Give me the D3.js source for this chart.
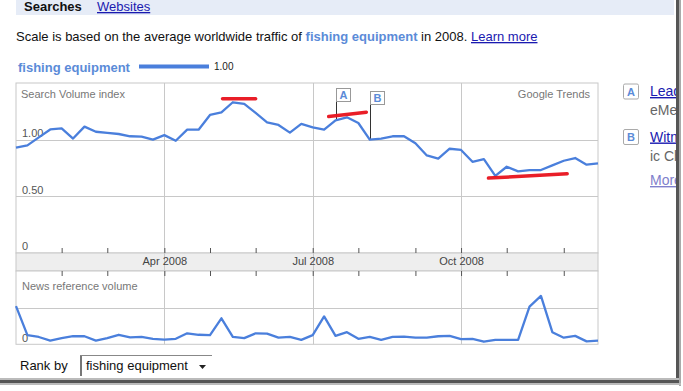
<!DOCTYPE html>
<html><head><meta charset="utf-8">
<script src="https://cdn.jsdelivr.net/npm/d3@7"></script>
<style>
html,body{margin:0;padding:0;background:#fff;}
svg{display:block;font-family:"Liberation Sans",Arial,sans-serif;}
</style></head>
<body><svg id="c" width="683" height="391"></svg>
<script>
// ---------- data ----------
const weeks = ["2008-01-06","2008-01-13","2008-01-20","2008-01-27","2008-02-03","2008-02-10","2008-02-17","2008-02-24",
"2008-03-02","2008-03-09","2008-03-16","2008-03-23","2008-03-30","2008-04-06","2008-04-13","2008-04-20","2008-04-27",
"2008-05-04","2008-05-11","2008-05-18","2008-05-25","2008-06-01","2008-06-08","2008-06-15","2008-06-22","2008-06-29",
"2008-07-06","2008-07-13","2008-07-20","2008-07-27","2008-08-03","2008-08-10","2008-08-17","2008-08-24","2008-08-31",
"2008-09-07","2008-09-14","2008-09-21","2008-09-28","2008-10-05","2008-10-12","2008-10-19","2008-10-26","2008-11-02",
"2008-11-09","2008-11-16","2008-11-23","2008-11-30","2008-12-07","2008-12-14","2008-12-21","2008-12-28"];
const searchVolume = [0.93,0.95,1.02,1.09,1.10,1.01,1.115,1.07,1.06,1.05,1.03,1.027,1.00,1.04,0.99,1.088,1.088,
1.218,1.24,1.33,1.316,1.236,1.153,1.13,1.062,1.139,1.109,1.088,1.171,1.197,1.147,1.00,1.009,1.03,1.03,0.968,0.861,
0.832,0.92,0.909,0.805,0.829,0.681,0.761,0.72,0.732,0.732,0.773,0.814,0.838,0.779,0.79];
const newsVolume = [1.04,0.25,0.20,0.10,0.17,0.22,0.22,0.10,0.17,0.26,0.19,0.20,0.15,0.13,0.15,0.30,0.26,0.25,0.71,
0.20,0.17,0.30,0.29,0.18,0.20,0.12,0.25,0.76,0.23,0.33,0.15,0.20,0.12,0.20,0.21,0.18,0.18,0.22,0.23,0.14,0.15,0.07,
0.12,0.12,0.12,1.03,1.32,0.33,0.18,0.23,0.08,0.10];
const majorTicks = ["2008-04-06","2008-07-06","2008-10-05"];
const majorLabels = ["Apr 2008","Jul 2008","Oct 2008"];
const minorTicks = ["2008-02-03","2008-03-02","2008-05-04","2008-06-01","2008-08-03","2008-09-07","2008-11-02","2008-12-07"];
const searchTicks = [0, 0.5, 1.0];
const searchTickLabels = ["0","0.50","1.00"];
const newsTicks = [0];
const annotations = [{label:"A", week:"2008-07-20"},{label:"B", week:"2008-08-10"}];
const annotationTexts = [["Lead","eMe"],["Witm","ic Ch"]];
// hand-drawn red highlights: [startWeekIndex, endWeekIndex, startValue, endValue]
const highlights = [[18.1,21.0,1.36,1.36],[27.4,30.7,1.205,1.242],[41.4,48.3,0.661,0.699]];

// ---------- layout ----------
const svg = d3.select("#c");
const L = 16, R = 598, T = 83, B = 253, BandB = 271, NB = 344.3;
const blue = "#4a7fdc";
const x = d3.scaleLinear().domain([0, weeks.length-1]).range([L, R]);
const wi = d => weeks.indexOf(d);
const y = d3.scaleLinear().domain([0,1.5]).range([B, T]);
const yn = d3.scaleLinear().domain([0,2]).range([NB, BandB]);

// top tab band
svg.append("rect").attr("x",16).attr("y",0).attr("width",658).attr("height",15).attr("fill","#e6ecf7");
svg.append("text").attr("x",24).attr("y",11).attr("font-size",13).attr("font-weight","bold").attr("fill","#111").text("Searches");
svg.append("text").attr("x",97).attr("y",11).attr("font-size",13).attr("fill","#1a1ab0").attr("text-decoration","underline").text("Websites");

// scale line
const st = svg.append("text").attr("x",16).attr("y",41).attr("font-size",13).attr("fill","#111");
st.append("tspan").text("Scale is based on the average worldwide traffic of ");
st.append("tspan").attr("font-weight","bold").attr("fill","#5b8bd8").text("fishing equipment");
st.append("tspan").text(" in 2008. ");
st.append("tspan").attr("fill","#1a1ab0").attr("text-decoration","underline").text("Learn more");

// legend
svg.append("text").attr("x",18).attr("y",72).attr("font-size",13).attr("font-weight","bold").attr("fill","#5b8bd8").text("fishing equipment");
svg.append("line").attr("x1",139).attr("x2",209).attr("y1",66.5).attr("y2",66.5).attr("stroke",blue).attr("stroke-width",4);
svg.append("text").attr("x",214).attr("y",70).attr("font-size",10).attr("fill","#222").text("1.00");

// chart frames
svg.append("rect").attr("x",L).attr("y",T).attr("width",R-L).attr("height",B-T).attr("fill","#fff").attr("stroke","#c8c8c8");
svg.append("rect").attr("x",L).attr("y",B).attr("width",R-L).attr("height",BandB-B).attr("fill","#eeeeee").attr("stroke","#c8c8c8");
svg.append("rect").attr("x",L).attr("y",BandB).attr("width",R-L).attr("height",NB-BandB).attr("fill","#fff").attr("stroke","#c8c8c8");

// horizontal gridlines
svg.append("g").selectAll("line").data(searchTicks.filter(v=>v>0)).join("line")
  .attr("x1",L).attr("x2",R).attr("y1",d=>Math.round(y(d))+0.5).attr("y2",d=>Math.round(y(d))+0.5)
  .attr("stroke","#c8c8c8");
svg.append("line").attr("x1",L).attr("x2",R).attr("y1",Math.round(yn(1))+0.5).attr("y2",Math.round(yn(1))+0.5).attr("stroke","#c8c8c8");

// vertical major gridlines
svg.append("g").selectAll("line").data(majorTicks).join("line")
  .attr("x1",d=>Math.round(x(wi(d)))+0.5).attr("x2",d=>Math.round(x(wi(d)))+0.5)
  .attr("y1",T).attr("y2",NB).attr("stroke","#c8c8c8");

// bottom axis (in band)
svg.append("g").attr("transform",`translate(0,${B})`)
  .call(d3.axisBottom(x).tickValues(minorTicks.map(wi)).tickSize(-5).tickFormat(""))
  .call(g=>{g.select(".domain").remove(); g.selectAll("line").attr("stroke","#555");});
svg.append("g").attr("transform",`translate(0,${BandB})`)
  .call(d3.axisBottom(x).tickValues(minorTicks.map(wi).concat(majorTicks.map(wi))).tickSize(5).tickFormat(""))
  .call(g=>{g.select(".domain").remove(); g.selectAll("line").attr("stroke","#555");});
svg.append("g").attr("transform",`translate(0,${B})`)
  .call(d3.axisBottom(x).tickValues(majorTicks.map(wi)).tickSize(-5).tickFormat((d,i)=>majorLabels[i]))
  .call(g=>{g.select(".domain").remove(); g.selectAll("line").attr("stroke","#555");
    g.selectAll("text").attr("font-size",11).attr("fill","#444").attr("font-family","Liberation Sans, Arial").attr("dy","0.71em").attr("y",4);});

// y labels (inside, left)
svg.append("g").attr("transform",`translate(${L},0)`)
  .call(d3.axisRight(y).tickValues(searchTicks).tickSize(0).tickPadding(6).tickFormat((d,i)=>searchTickLabels[i]))
  .call(g=>{g.select(".domain").remove(); g.selectAll("text").attr("font-size",11).attr("fill","#555")
    .attr("font-family","Liberation Sans, Arial").attr("dy","-0.3em");});
svg.append("g").attr("transform",`translate(${L},0)`)
  .call(d3.axisRight(yn).tickValues(newsTicks).tickSize(0).tickPadding(6).tickFormat(()=>"0"))
  .call(g=>{g.select(".domain").remove(); g.selectAll("text").attr("font-size",11).attr("fill","#555")
    .attr("font-family","Liberation Sans, Arial").attr("dy","-0.3em");});

svg.append("text").attr("x",21).attr("y",98).attr("font-size",11).attr("fill","#777").text("Search Volume index");
svg.append("text").attr("x",590).attr("y",98).attr("font-size",11).attr("fill","#777").attr("text-anchor","end").text("Google Trends");
svg.append("text").attr("x",22).attr("y",289.5).attr("font-size",11).attr("fill","#777").text("News reference volume");

// annotations stems + boxes
const ann = svg.append("g").selectAll("g").data(annotations).join("g");
const boxTop = [88.5, 91.5];
ann.append("line").attr("x1",d=>Math.round(x(wi(d.week)))+0.5).attr("x2",d=>Math.round(x(wi(d.week)))+0.5)
  .attr("y1",(d,i)=>boxTop[i]+13).attr("y2",d=>y(searchVolume[wi(d.week)])).attr("stroke","#333");
ann.append("rect").attr("x",d=>Math.round(x(wi(d.week)))+0.5).attr("y",(d,i)=>boxTop[i])
  .attr("width",14).attr("height",13).attr("fill","#fff").attr("stroke","#999");
ann.append("text").attr("x",d=>Math.round(x(wi(d.week)))+7.5).attr("y",(d,i)=>boxTop[i]+10.5)
  .attr("text-anchor","middle").attr("font-size",11).attr("font-weight","bold").attr("fill","#5b8bd8").text(d=>d.label);

// lines
const line = d3.line().x((d,i)=>x(i)).y(d=>y(d));
svg.append("path").attr("d",line(searchVolume)).attr("fill","none").attr("stroke",blue).attr("stroke-width",2.3).attr("stroke-linejoin","round");
const nline = d3.line().x((d,i)=>x(i)).y(d=>yn(d));
svg.append("path").attr("d",nline(newsVolume)).attr("fill","none").attr("stroke",blue).attr("stroke-width",2.3).attr("stroke-linejoin","round");

// red highlights
svg.append("g").selectAll("path").data(highlights).join("path")
  .attr("d",d=>d3.line()([[x(d[0]),y(d[2])],[x(d[1]),y(d[3])]]))
  .attr("stroke","#e8121c").attr("stroke-width",3.5).attr("stroke-linecap","round").attr("fill","none").attr("opacity",0.95);

// right side panel
const clip = svg.append("defs").append("clipPath").attr("id","rc");
clip.append("rect").attr("x",600).attr("y",0).attr("width",77).attr("height",391);
const rp = svg.append("g").attr("clip-path","url(#rc)");
const rpBox = [84, 129.5];
annotations.forEach((a,i)=>{
  rp.append("rect").attr("x",623.5).attr("y",rpBox[i]).attr("width",15).attr("height",15).attr("rx",1.5)
    .attr("fill","#fff").attr("stroke","#aaa");
  rp.append("text").attr("x",631).attr("y",rpBox[i]+11.5).attr("text-anchor","middle").attr("font-size",11)
    .attr("font-weight","bold").attr("fill","#5b8bd8").text(a.label);
  rp.append("text").attr("x",650).attr("y",rpBox[i]+12).attr("font-size",14).attr("fill","#1a1ab0")
    .attr("text-decoration","underline").text(annotationTexts[i][0]);
  rp.append("text").attr("x",650).attr("y",rpBox[i]+31).attr("font-size",14).attr("fill","#666").text(annotationTexts[i][1]);
});
rp.append("text").attr("x",650).attr("y",185).attr("font-size",14).attr("fill","#8080cc").attr("text-decoration","underline").text("More");

// rank by
svg.append("text").attr("x",20).attr("y",370).attr("font-size",13).attr("fill","#111").text("Rank by");
svg.append("rect").attr("x",80).attr("y",355).attr("width",132).attr("height",21).attr("fill","#fff");
svg.append("line").attr("x1",81).attr("x2",81).attr("y1",355).attr("y2",376).attr("stroke","#777").attr("stroke-width",2);
svg.append("line").attr("x1",80).attr("x2",212).attr("y1",355.5).attr("y2",355.5).attr("stroke","#888");
svg.append("text").attr("x",86).attr("y",370).attr("font-size",13).attr("fill","#111").text("fishing equipment");
svg.append("path").attr("d","M199,365 L206,365 L202.5,369 Z").attr("fill","#222");

// window shadows
svg.append("rect").attr("x",676).attr("y",0).attr("width",3).attr("height",384).attr("fill","#555");
svg.append("rect").attr("x",679).attr("y",0).attr("width",2).attr("height",386).attr("fill","#aaa");
svg.append("rect").attr("x",0).attr("y",378).attr("width",679).attr("height",2).attr("fill","#bbb");
svg.append("rect").attr("x",0).attr("y",380).attr("width",679).attr("height",3).attr("fill","#555");
svg.append("rect").attr("x",0).attr("y",383).attr("width",681).attr("height",2).attr("fill","#bbb");
</script></body></html>
